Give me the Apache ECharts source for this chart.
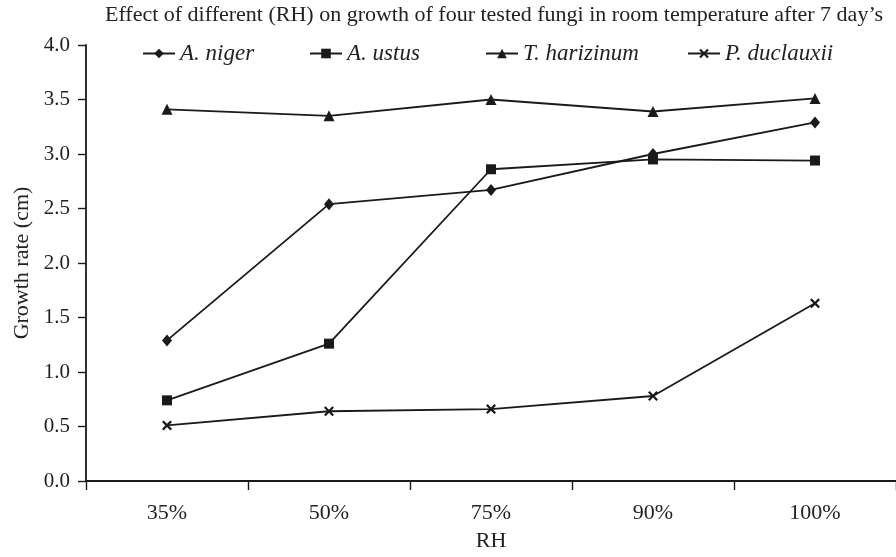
<!DOCTYPE html>
<html>
<head>
<meta charset="utf-8">
<script src="https://cdn.jsdelivr.net/npm/echarts@6/dist/echarts.min.js"></script>
<style>
html,body{margin:0;padding:0;background:#fff;}
#chart{width:896px;height:557px;}
</style>
</head>
<body>
<div id="chart"></div>
<script>
const categories = ['35%', '50%', '75%', '90%', '100%'];
const aNiger = [1.29, 2.54, 2.67, 3.00, 3.29];
const aUstus = [0.74, 1.26, 2.86, 2.95, 2.94];
const tHarizinum = [3.41, 3.35, 3.50, 3.39, 3.51];
const pDuclauxii = [0.51, 0.64, 0.66, 0.78, 1.63];
const seriesNames = ['A. niger', 'A. ustus', 'T. harizinum', 'P. duclauxii'];
const titleText = 'Effect of different (RH) on growth of four tested fungi in room temperature after 7 day\u2019s';

const FONT = 'Liberation Serif';
const INK = '#1a1a1a';
const TXT = '#222';
const crossPath = 'path://M0,1.6 L1.6,0 L5,3.4 L8.4,0 L10,1.6 L6.6,5 L10,8.4 L8.4,10 L5,6.6 L1.6,10 L0,8.4 L3.4,5 Z';

const symbols = ['diamond', 'rect', 'triangle', crossPath];
const symbolSizes = [[10, 12], 10, 11, 10];
const dataSets = [aNiger, aUstus, tHarizinum, pDuclauxii];
const legendLefts = [142, 309, 485, 687];

const chart = echarts.init(document.getElementById('chart'), null, {renderer: 'canvas'});

const legends = seriesNames.map((n, i) => ({
  data: [n],
  left: legendLefts[i],
  top: 42,
  padding: 0,
  itemWidth: 32,
  itemHeight: 12,
  textStyle: {fontFamily: FONT, fontStyle: 'italic', fontSize: 23, color: TXT},
  selectedMode: false
}));

const option = {
  animation: false,
  backgroundColor: '#fff',
  title: {
    text: titleText,
    left: 494,
    textAlign: 'center',
    top: 4,
    padding: 0,
    textStyle: {fontFamily: FONT, fontWeight: 'normal', fontSize: 22, color: TXT}
  },
  legend: legends,
  grid: {left: 86, right: -6, top: 45, bottom: 73, containLabel: false},
  xAxis: {
    type: 'category',
    data: categories,
    boundaryGap: true,
    name: 'RH',
    nameLocation: 'middle',
    nameGap: 49,
    nameTextStyle: {fontFamily: FONT, fontSize: 22, color: TXT},
    axisLine: {lineStyle: {color: INK, width: 1.8}},
    axisTick: {show: true, length: 9, alignWithLabel: false, lineStyle: {color: INK, width: 1.4}},
    axisLabel: {fontFamily: FONT, fontSize: 22, color: TXT, margin: 21},
    splitLine: {show: false}
  },
  yAxis: {
    type: 'value',
    min: 0,
    max: 4,
    interval: 0.5,
    name: 'Growth rate (cm)',
    nameLocation: 'middle',
    nameGap: 53,
    nameRotate: 90,
    nameTextStyle: {fontFamily: FONT, fontSize: 22, color: TXT},
    axisLine: {show: true, lineStyle: {color: INK, width: 1.8}},
    axisTick: {show: true, length: 8, lineStyle: {color: INK, width: 1.4}},
    axisLabel: {fontFamily: FONT, fontSize: 21, color: TXT, margin: 16, formatter: v => v.toFixed(1)},
    splitLine: {show: false}
  },
  series: seriesNames.map((n, i) => ({
    name: n,
    type: 'line',
    data: dataSets[i],
    symbol: symbols[i],
    symbolSize: symbolSizes[i],
    showAllSymbol: true,
    lineStyle: {color: INK, width: 1.8},
    itemStyle: {color: INK, borderWidth: 0},
    emphasis: {disabled: true}
  }))
};
chart.setOption(option);
</script>
</body>
</html>
